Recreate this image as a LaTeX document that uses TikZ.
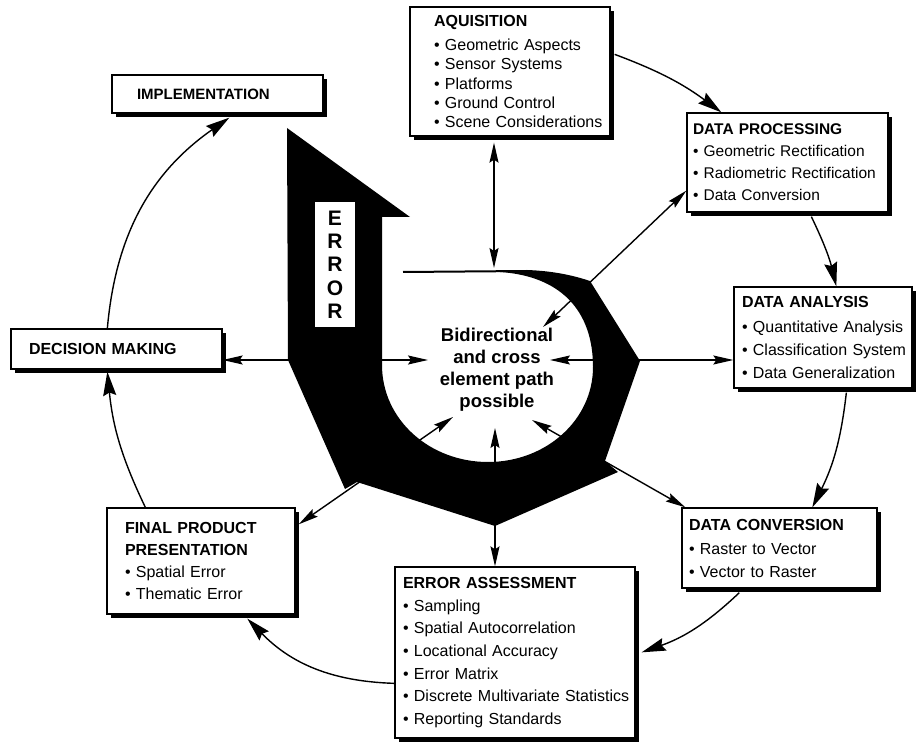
\documentclass[tikz,border=0pt]{standalone}
\usepackage{fontspec}
\setmainfont{Liberation Sans}
\usetikzlibrary{arrows.meta,calc,shadows}
\begin{document}
\begin{tikzpicture}[x=1pt,y=-1pt,
  box/.style={draw=black, line width=1.3pt, fill=white, rectangle,
    inner xsep=0pt, inner ysep=0pt, align=left,
    drop shadow={shadow xshift=4pt, shadow yshift=-4pt, fill=black, opacity=1}},
  sarrow/.style={line width=1.4pt, {Stealth[length=20pt,width=9pt,inset=3pt]}-{Stealth[length=20pt,width=9pt,inset=3pt]}},
  carrow/.style={line width=1.4pt, -{Stealth[length=24pt,width=13pt,inset=3pt]}},
  errlabel/.style={fill=white, inner sep=0pt, minimum width=40pt, minimum height=125pt,
    align=center, font=\bfseries\fontsize{21}{23.3}\selectfont},
  hubtext/.style={align=center, font=\bfseries\fontsize{18.5}{22}\selectfont}
]
\useasboundingbox (0,0) rectangle (916,743);

% ---------- boxes ----------
\node[box, text width=200pt, minimum height=129pt, font=\fontsize{16}{19.2}\selectfont] (acq) at (510,71.5)
 {\hspace*{24pt}\textbf{AQUISITION}\\[5pt]
  \hspace*{24pt}\textbullet\ Geometric Aspects\\
  \hspace*{24pt}\textbullet\ Sensor Systems\\
  \hspace*{24pt}\textbullet\ Platforms\\
  \hspace*{24pt}\textbullet\ Ground Control\\
  \hspace*{24pt}\textbullet\ Scene Considerations};

\node[box, text width=201pt, minimum height=99pt, font=\fontsize{15.5}{22}\selectfont] (dp) at (787.5,162.5)
 {\hspace*{6pt}\textbf{DATA PROCESSING}\\
  \hspace*{6pt}\textbullet\ Geometric Rectification\\
  \hspace*{6pt}\textbullet\ Radiometric Rectification\\
  \hspace*{6pt}\textbullet\ Data Conversion};

\node[box, text width=178pt, minimum height=101pt, font=\fontsize{16}{23}\selectfont] (da) at (823,337.5)
 {\hspace*{8pt}\textbf{DATA ANALYSIS}\\[2pt]
  \hspace*{8pt}\textbullet\ Quantitative Analysis\\
  \hspace*{8pt}\textbullet\ Classification System\\
  \hspace*{8pt}\textbullet\ Data Generalization};

\node[box, text width=195pt, minimum height=80pt, font=\fontsize{16}{23}\selectfont] (dc) at (779.5,548)
 {\hspace*{7pt}\textbf{DATA CONVERSION}\\[1pt]
  \hspace*{7pt}\textbullet\ Raster to Vector\\
  \hspace*{7pt}\textbullet\ Vector to Raster};

\node[box, text width=240pt, minimum height=171pt, font=\fontsize{16}{22.7}\selectfont] (ea) at (515,652.5)
 {\hspace*{8pt}\textbf{ERROR ASSESSMENT}\\
  \hspace*{8pt}\textbullet\ Sampling\\
  \hspace*{8pt}\textbullet\ Spatial Autocorrelation\\
  \hspace*{8pt}\textbullet\ Locational Accuracy\\
  \hspace*{8pt}\textbullet\ Error Matrix\\
  \hspace*{8pt}\textbullet\ Discrete Multivariate Statistics\\
  \hspace*{8pt}\textbullet\ Reporting Standards};

\node[box, text width=188pt, minimum height=106pt, font=\fontsize{16}{22.3}\selectfont] (fp) at (201,561)
 {\hspace*{18pt}\textbf{FINAL PRODUCT}\\
  \hspace*{18pt}\textbf{PRESENTATION}\\
  \hspace*{18pt}\textbullet\ Spatial Error\\
  \hspace*{18pt}\textbullet\ Thematic Error};

\node[box, text width=211pt, minimum height=40pt, font=\bfseries\fontsize{16}{19}\selectfont] (dm) at (116.5,349)
 {\hspace*{18pt}DECISION MAKING};

\node[box, text width=211pt, minimum height=38pt, font=\bfseries\fontsize{15}{19}\selectfont] (impl) at (217.5,94)
 {\hspace*{25pt}IMPLEMENTATION};

% ---------- hub coordinates ----------
\coordinate (cL) at (428,360);
\coordinate (cR) at (550,360);
\coordinate (cT) at (494,268);
\coordinate (cDP) at (543,327);
\coordinate (cB) at (495,428);
\coordinate (cBL) at (453,417);
\coordinate (cBR) at (532,420);

% ---------- straight connectors ----------
\draw[sarrow] (dm.east |- cL) -- (cL);
\draw[sarrow] (da.west |- cR) -- (cR);
\draw[sarrow, shorten <=6pt] (acq.south -| cT) -- (cT);
\draw[sarrow] ($(dp.south west)+(0,-22)$) -- (cDP);
\draw[sarrow] (ea.north -| cB) -- (cB);
\draw[sarrow] ($(fp.north east)+(3,17)$) -- (cBL);
\draw[sarrow] ($(dc.north west)+(4,0)$) -- (cBR);

% ---------- ERROR arrow shape ----------
\fill[black] (287,128) -- (410,217) -- (382,217) -- (382,365)
  .. controls (382,420) and (430,462) .. (488,462)
  .. controls (546,462) and (593,420) .. (593,367)
  .. controls (593,310) and (560,276) .. (500,272)
  -- (527,270)
  .. controls (555,271) and (575,276) .. (590,281)
  -- (640,361) -- (605,461) -- (618,472) -- (495,526)
  -- (357,482) -- (345,489) -- (288,360) -- cycle;
\draw[line width=2pt] (403,272) -- (527,271);

\node[errlabel] (errlbl) at (335,264.5) {E\\R\\R\\O\\R};
\node[hubtext] (hub) at (497,370) {Bidirectional\\and cross\\element path\\possible};

% ---------- cycle connectors ----------
\draw[carrow] ($(acq.north east)+(4,48)$) to[bend left=8] ($(dp.north west)+(35,0)$);
\draw[carrow] ($(dp.south west)+(125,4)$) to[bend left=6] ($(da.north west)+(103,0)$);
\draw[carrow] ($(da.south west)+(113,4)$) to[bend left=10] ($(dc.north west)+(131,0)$);
\draw[carrow] ($(dc.south west)+(58,4)$) to[bend left=12] ($(ea.north east)+(6,86)$);
\draw[carrow] ($(ea.north west)+(0,117)$) to[bend left=22] ($(fp.south west)+(141,4)$);
\draw[carrow] ($(fp.north west)+(39,0)$) to[bend left=10] ($(dm.south west)+(97,2)$);
\draw[carrow] ($(dm.north west)+(97,0)$) to[bend left=25] ($(impl.south west)+(118,4)$);
\end{tikzpicture}
\end{document}
